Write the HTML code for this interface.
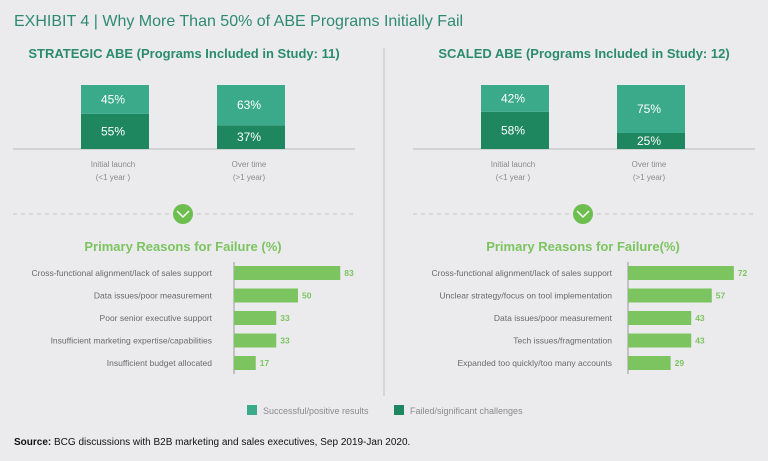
<!DOCTYPE html>
<html><head><meta charset="utf-8"><style>
body{margin:0;background:#ebebed;}
svg{display:block;font-family:"Liberation Sans",sans-serif;}
</style></head><body>
<svg width="768" height="461" viewBox="0 0 768 461">
<rect width="768" height="461" fill="#ebebed"/>
<text x="14" y="26" font-size="16" fill="#2e8b6f">EXHIBIT 4 | Why More Than 50% of ABE Programs Initially Fail</text>
<rect x="383" y="48" width="2" height="348" fill="#d6d6d8"/>
<text x="184" y="58" font-size="13" font-weight="bold" fill="#2a8c6a" text-anchor="middle">STRATEGIC ABE (Programs Included in Study: 11)</text>
<text x="584" y="58" font-size="13" font-weight="bold" fill="#2a8c6a" text-anchor="middle">SCALED ABE (Programs Included in Study: 12)</text>
<g id="g"></g>
<rect x="247" y="405" width="10" height="10" fill="#3aaa8a"/>
<text x="263" y="414" font-size="9" fill="#8a8a8a">Successful/positive results</text>
<rect x="394" y="405" width="10" height="10" fill="#1e8760"/>
<text x="410" y="414" font-size="9" fill="#8a8a8a">Failed/significant challenges</text>
<text x="14" y="445" font-size="10" fill="#111"><tspan font-weight="bold">Source:</tspan> BCG discussions with B2B marketing and sales executives, Sep 2019-Jan 2020.</text>
</svg>
<script>
const stackCats=["Initial launch","Over time"];
const stackSubs=["(<1 year )","(>1 year)"];
const strategicSuccess=[45,63];
const strategicFail=[55,37];
const scaledSuccess=[42,75];
const scaledFail=[58,25];
const strategicReasons=["Cross-functional alignment/lack of sales support","Data issues/poor measurement","Poor senior executive support","Insufficient marketing expertise/capabilities","Insufficient budget allocated"];
const strategicValues=[83,50,33,33,17];
const scaledReasons=["Cross-functional alignment/lack of sales support","Unclear strategy/focus on tool implementation","Data issues/poor measurement","Tech issues/fragmentation","Expanded too quickly/too many accounts"];
const scaledValues=[72,57,43,43,29];

const NS="http://www.w3.org/2000/svg";
const G=document.getElementById('g');
function mk(tag,a,txt){const e=document.createElementNS(NS,tag);for(const k in a)e.setAttribute(k,a[k]);if(txt!==undefined)e.textContent=txt;G.appendChild(e);return e;}

function panel(ox,succ,fail,reasons,vals,title,scale,axisX,labelX){
  const base=149,H=64;
  const y=v=>v/100*H;
  const l=mk('line',{x1:ox+13,x2:ox+355,y1:base,y2:base,stroke:'#b8b8b8','stroke-width':1});
  
  
  stackCats.forEach((c,i)=>{
    const bx=ox+[81,217][i],w=68;
    const hf=y(fail[i]),hs=y(succ[i]);
    const rf=mk('rect',{x:bx,y:base-hf,width:w,height:hf,fill:'#1e8760'});
    
    
    const rs=mk('rect',{x:bx,y:base-hf-hs,width:w,height:hs,fill:'#3aaa8a'});
    
    
    const t1=mk('text',{x:bx+32,y:base-hf/2+4,'font-size':12,fill:'#fff','text-anchor':'middle'},fail[i]+'%');
    
    
    const t2=mk('text',{x:bx+32,y:base-hf-hs/2+4,'font-size':12,fill:'#fff','text-anchor':'middle'},succ[i]+'%');
    
    
    const c1=mk('text',{x:bx+32,y:167,'font-size':8,fill:'#8a8a8a','text-anchor':'middle'},c);
    
    
    const c2=mk('text',{x:bx+32,y:180,'font-size':8,fill:'#8a8a8a','text-anchor':'middle'},stackSubs[i]);
    
    
  });
  const d=mk('line',{x1:ox+13,x2:ox+353,y1:214,y2:214,stroke:'#c4c4c4','stroke-width':1,'stroke-dasharray':'4 4'});
  
  
  const cc=mk('circle',{cx:ox+183,cy:214,r:10,fill:'#6cbf4f'});
  
  
  const ch=mk('polyline',{points:`${ox+177},${211} ${ox+183},${217} ${ox+189},${211}`,fill:'none',stroke:'#fff','stroke-width':1.5});
  
  
  const rt=mk('text',{x:ox+183,y:251,'font-size':13,'font-weight':'bold',fill:'#7cc45f','text-anchor':'middle'},title==='strategic'?'Primary Reasons for Failure (%)':'Primary Reasons for Failure(%)');
  
  
  const ax=mk('line',{x1:axisX,x2:axisX,y1:262,y2:374,stroke:'#999','stroke-width':1});
  
  
  reasons.forEach((r,i)=>{
    const cy=273+i*22.5;
    const b=mk('rect',{x:axisX,y:cy-7,width:vals[i]*scale,height:14,fill:'#7cc45f'});
    
    
    const lt=mk('text',{x:labelX,y:cy+3,'font-size':8.5,fill:'#6a6a6a','text-anchor':'end'},r);
    
    
    const vt=mk('text',{x:axisX+vals[i]*scale+4,y:cy+3,'font-size':8.5,'font-weight':'bold',fill:'#7cc45f'},vals[i]);
    
    
  });
}
panel(0,strategicSuccess,strategicFail,strategicReasons,strategicValues,'strategic',1.28,234,212);
panel(400,scaledSuccess,scaledFail,scaledReasons,scaledValues,'scaled',1.47,628,612);
</script>
</body></html>
